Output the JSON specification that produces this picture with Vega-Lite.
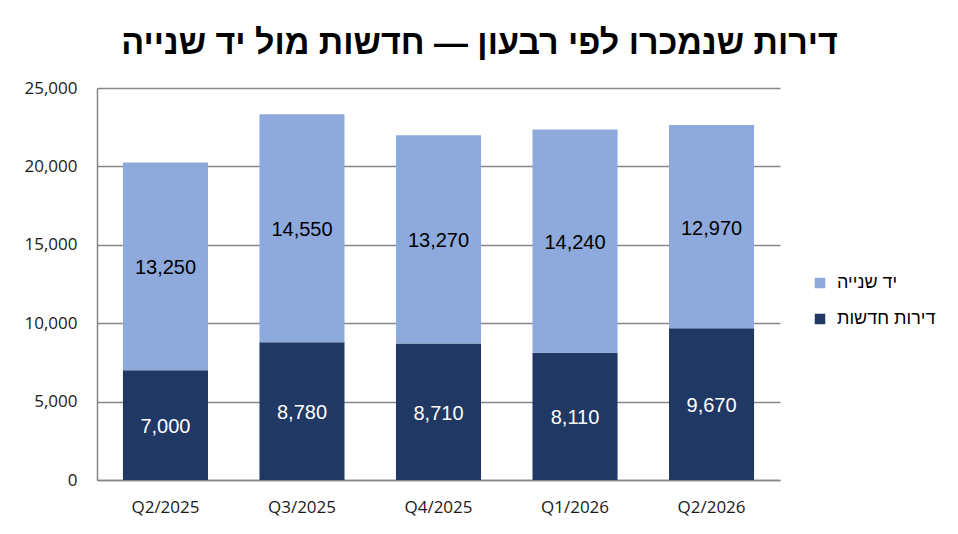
{
  "$schema": "https://vega.github.io/schema/vega-lite/v6.json",
  "autosize": "none",
  "width": 683,
  "height": 392,
  "padding": {"left": 97, "top": 88, "right": 178, "bottom": 54},
  "background": "white",
  "title": {
    "text": "דירות שנמכרו לפי רבעון — חדשות מול יד שנייה",
    "font": "Liberation Sans",
    "fontSize": 34,
    "fontWeight": "bold",
    "color": "#000000",
    "anchor": "middle",
    "dx": 41,
    "offset": 18
  },
  "data": {
    "values": [
      {"quarter": "Q2/2025", "type": "דירות חדשות", "value": 7000},
      {"quarter": "Q2/2025", "type": "יד שנייה", "value": 13250},
      {"quarter": "Q3/2025", "type": "דירות חדשות", "value": 8780},
      {"quarter": "Q3/2025", "type": "יד שנייה", "value": 14550},
      {"quarter": "Q4/2025", "type": "דירות חדשות", "value": 8710},
      {"quarter": "Q4/2025", "type": "יד שנייה", "value": 13270},
      {"quarter": "Q1/2026", "type": "דירות חדשות", "value": 8110},
      {"quarter": "Q1/2026", "type": "יד שנייה", "value": 14240},
      {"quarter": "Q2/2026", "type": "דירות חדשות", "value": 9670},
      {"quarter": "Q2/2026", "type": "יד שנייה", "value": 12970}
    ]
  },
  "encoding": {
    "x": {
      "field": "quarter",
      "type": "nominal",
      "sort": null,
      "title": null,
      "scale": {"paddingInner": 0.377, "paddingOuter": 0.19},
      "axis": {
        "labelAngle": 0,
        "labelFont": "Open Sans",
        "labelFontSize": 17,
        "labelColor": "#1a1a1a",
        "labelPadding": 19,
        "ticks": false,
        "domainColor": "#868686",
        "domainWidth": 1.5
      }
    },
    "y": {
      "field": "value",
      "type": "quantitative",
      "stack": "zero",
      "title": null,
      "scale": {"domain": [0, 25000]},
      "axis": {
        "values": [0, 5000, 10000, 15000, 20000, 25000],
        "format": ",d",
        "labelFont": "Open Sans",
        "labelFontSize": 17,
        "labelColor": "#1a1a1a",
        "labelPadding": 20,
        "ticks": false,
        "grid": true,
        "gridColor": "#868686",
        "gridWidth": 1.5,
        "domainColor": "#868686",
        "domainWidth": 1.5
      }
    },
    "order": {"field": "type", "sort": "ascending"}
  },
  "layer": [
    {
      "mark": {"type": "bar"},
      "encoding": {
        "color": {
          "field": "type",
          "type": "nominal",
          "scale": {"domain": ["יד שנייה", "דירות חדשות"], "range": ["#8EA9DB", "#203864"]},
          "legend": {
            "title": null,
            "orient": "none",
            "legendX": 714,
            "legendY": 186,
            "symbolType": "square",
            "symbolSize": 110,
            "symbolStrokeWidth": 0,
            "labelFont": "Liberation Sans",
            "labelFontSize": 18,
            "labelColor": "#000000",
            "rowPadding": 18,
            "labelOffset": 8
          }
        }
      }
    },
    {
      "mark": {"type": "text", "font": "Liberation Sans", "fontSize": 20, "baseline": "middle", "dy": 2},
      "encoding": {
        "y": {"field": "value", "type": "quantitative", "stack": "zero", "bandPosition": 0.5},
        "text": {"field": "value", "type": "quantitative", "format": ",d"},
        "color": {
          "condition": {"test": "datum.type === 'דירות חדשות'", "value": "#ffffff"},
          "value": "#000000"
        }
      }
    }
  ],
  "config": {
    "view": {"stroke": null}
  }
}
